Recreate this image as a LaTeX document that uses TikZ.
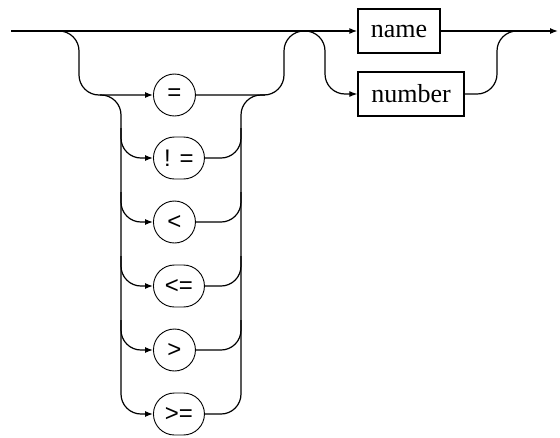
\documentclass[tikz,border=0pt]{standalone}
\usepackage{fontspec}
\setmainfont{Liberation Serif}
\newfontfamily\opfont{Liberation Sans}
\usetikzlibrary{arrows.meta,shapes.misc}
\begin{document}
\begin{tikzpicture}[x=1pt,y=-1pt,
  arr/.style={line width=1.3pt,-{Latex[length=8pt,width=6pt]}},
  curve/.style={line width=1.2pt, rounded corners=20pt},
  opnode/.style={draw, line width=0.9pt, rounded rectangle, minimum height=42pt, inner sep=2pt,
    font=\opfont\fontsize{24}{28}\selectfont, anchor=west},
  boxnode/.style={draw, line width=1.3pt, rectangle, minimum height=44pt,
    font=\fontsize{26}{30}\selectfont, inner sep=0pt}
]
\useasboundingbox (0,0) rectangle (560,437);
% nodes
\node[boxnode, minimum width=82pt] (name) at (399,31) {name};
\node[boxnode, minimum width=106pt] (number) at (411,94) {number};
\node[opnode, minimum width=45pt] (eq) at (153,95) {=};
\node[opnode, minimum width=55pt] (ne) at (153,158) {! =};
\node[opnode, minimum width=44pt] (lt) at (153,222) {<};
\node[opnode, minimum width=55pt] (le) at (153,286) {<=};
\node[opnode, minimum width=44pt] (gt) at (153,350) {>};
\node[opnode, minimum width=55pt] (ge) at (153,414) {>=};
% free ends
\coordinate (start) at (11,31);
\coordinate (end) at (558,31);
\coordinate (splitA) at (58,31);
\coordinate (splitB) at (100,95);
\coordinate (joinB) at (265,95);
\coordinate (joinA) at (305,31);
\coordinate (splitC) at (304,31);
\coordinate (joinC) at (518,31);
% main line
\draw[arr] (start) -- (name.west);
\draw[arr] (name.east) -- (end);
% comparison block
\draw[arr, curve] (splitA) -- (79,31) -- (79,95) -- (eq.west);
\draw[curve] (eq.east) -- (284,95) -- (284,31) -- (joinA);
\draw[arr, curve] (splitB) -- (121,95) -- (121,414) -- (ge.west);
\draw[curve] (ge.east) -- (241,414) -- (241,95) -- (joinB);
\foreach \n/\y in {ne/158, lt/222, le/286, gt/350}{
  \draw[arr, curve] (121,\y-30) -- (121,\y) -- (\n.west);
  \draw[curve] (\n.east) -- (241,\y) -- (241,\y-30);
}
% name / number
\draw[arr, curve] (splitC) -- (325,31) -- (325,94) -- (number.west);
\draw[curve] (number.east) -- (497,94) -- (497,31) -- (joinC);
\end{tikzpicture}
\end{document}
